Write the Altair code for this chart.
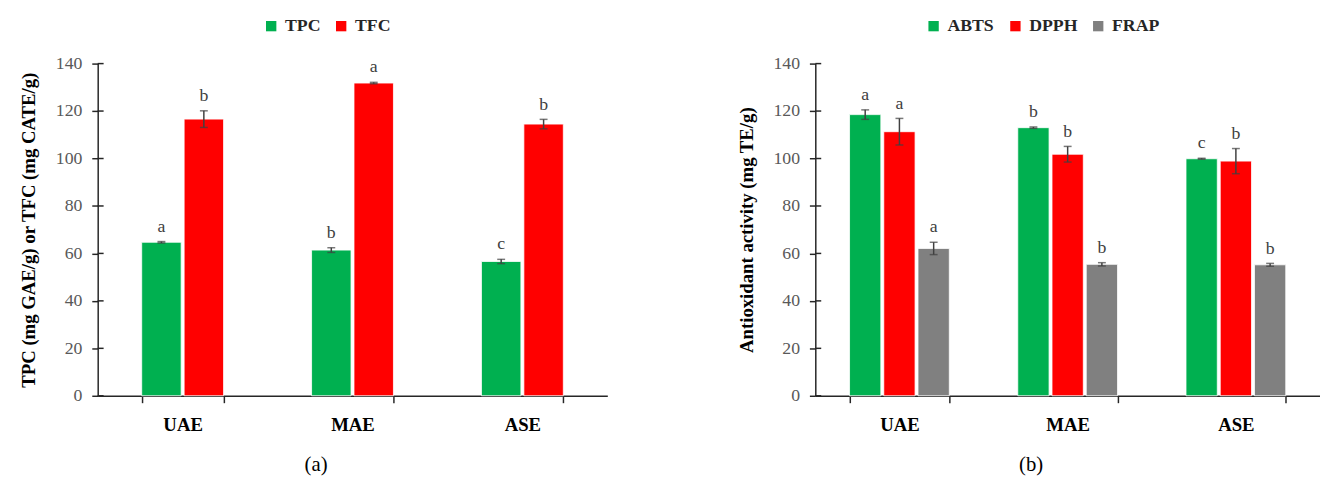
import altair as alt
import pandas as pd

cats = ["UAE", "MAE", "ASE"]

# Panel (a)
a_series = ["TPC", "TFC"]
a_colors = ["#00B050", "#FF0000"]
tpc = [64.7, 61.4, 56.6]
tpc_err = [0.3, 1.0, 0.9]
tpc_let = ["a", "b", "c"]
tfc = [116.6, 131.8, 114.5]
tfc_err = [3.5, 0.3, 2.0]
tfc_let = ["b", "a", "b"]

# Panel (b)
b_series = ["ABTS", "DPPH", "FRAP"]
b_colors = ["#00B050", "#FF0000", "#808080"]
abts = [118.5, 113.0, 99.9]
abts_err = [2.0, 0.3, 0.2]
abts_let = ["a", "b", "c"]
dpph = [111.3, 101.8, 98.9]
dpph_err = [5.6, 3.3, 5.3]
dpph_let = ["a", "b", "b"]
frap = [62.1, 55.4, 55.2]
frap_err = [2.6, 0.7, 0.6]
frap_let = ["a", "b", "b"]

y_ticks = [0, 20, 40, 60, 80, 100, 120, 140]

FONT = "Liberation Serif"


def make_df(series, vals, errs, lets):
    rows = []
    for s, v, e, l in zip(series, vals, errs, lets):
        for c, vv, ee, ll in zip(cats, v, e, l):
            rows.append({"cat": c, "series": s, "value": vv,
                         "lo": vv - ee, "hi": vv + ee, "letter": ll})
    return pd.DataFrame(rows)


df_a = make_df(a_series, [tpc, tfc], [tpc_err, tfc_err], [tpc_let, tfc_let])
df_b = make_df(b_series, [abts, dpph, frap], [abts_err, dpph_err, frap_err],
               [abts_let, dpph_let, frap_let])
df_ticks = pd.DataFrame({"t": y_ticks})


def panel(df, series, colors, width, p_inner, q_inner, ytitle, sub, lx):
    x = alt.X("cat:N", sort=cats,
              scale=alt.Scale(paddingInner=p_inner, paddingOuter=p_inner / 2),
              axis=alt.Axis(title=None, tickBand="extent", labelAngle=0,
                            labelFont=FONT, labelFontSize=19,
                            labelFontWeight="bold", labelColor="#000000",
                            labelPadding=13, tickSize=7))
    xo = alt.XOffset("series:N", sort=series,
                     scale=alt.Scale(paddingInner=q_inner, paddingOuter=0))
    yscale = alt.Scale(domain=[0, 140], nice=False)
    y = alt.Y("value:Q", scale=yscale,
              axis=alt.Axis(title=ytitle, values=y_ticks, grid=False,
                            titleFont=FONT, titleFontSize=19,
                            titleFontWeight="bold", titleColor="#000000",
                            titlePadding=17,
                            labelFont=FONT, labelFontSize=18,
                            labelColor="#595959", labelPadding=10,
                            tickSize=6))
    color = alt.Color("series:N", sort=series,
                      scale=alt.Scale(domain=series, range=colors),
                      legend=alt.Legend(title=None, orient="none",
                                        direction="horizontal",
                                        legendX=lx, legendY=-47,
                                        symbolType="square", symbolSize=110,
                                        symbolStrokeWidth=0,
                                        labelFont=FONT, labelFontSize=18,
                                        labelFontWeight="bold",
                                        labelColor="#262626",
                                        columnPadding=12, labelOffset=5))
    base = alt.Chart(df)
    bars = base.mark_bar(stroke="white", strokeWidth=0.8).encode(
        x=x, xOffset=xo, y=y, color=color)
    rules = base.mark_rule(color="#404040", strokeWidth=1.5).encode(
        x=x, xOffset=xo, y=alt.Y("lo:Q", scale=yscale), y2="hi:Q")
    cap_lo = base.mark_tick(color="#404040", size=8, thickness=1.5).encode(
        x=x, xOffset=xo, y=alt.Y("lo:Q", scale=yscale))
    cap_hi = base.mark_tick(color="#404040", size=8, thickness=1.5).encode(
        x=x, xOffset=xo, y=alt.Y("hi:Q", scale=yscale))
    letters = base.mark_text(font=FONT, fontSize=18, color="#404040",
                             baseline="bottom", dy=-6).encode(
        x=x, xOffset=xo, y=alt.Y("hi:Q", scale=yscale), text="letter:N")
    inner = alt.Chart(df_ticks).mark_rule(color="#262626", strokeWidth=1.5).encode(
        x=alt.value(0), x2=alt.value(6), y=alt.Y("t:Q", scale=yscale))
    return alt.layer(bars, rules, cap_lo, cap_hi, letters, inner).properties(
        width=width, height=337,
        title=alt.TitleParams(sub, orient="bottom", anchor="middle",
                              frame="group", font=FONT, fontSize=21,
                              fontWeight="normal", color="#000000",
                              offset=20, dx=-37))


left = panel(df_a, a_series, a_colors, 517, 0.518, 0.07,
             "TPC (mg GAE/g) or TFC (mg CATE/g)", "(a)", 167)
right = panel(df_b, b_series, b_colors, 512, 0.407, 0.086,
              "Antioxidant activity (mg TE/g)", "(b)", 111)

chart = alt.hconcat(left, right, spacing=132).resolve_scale(
    color="independent", x="independent", xOffset="independent"
).configure_view(stroke=None).configure_axis(
    domainColor="#262626", domainWidth=1.5, tickColor="#262626",
    tickWidth=1.5
).properties(padding={"left": 12, "top": 6, "right": 0, "bottom": 0})

chart.save("out.html", embed_options={"renderer": "svg", "actions": False})
